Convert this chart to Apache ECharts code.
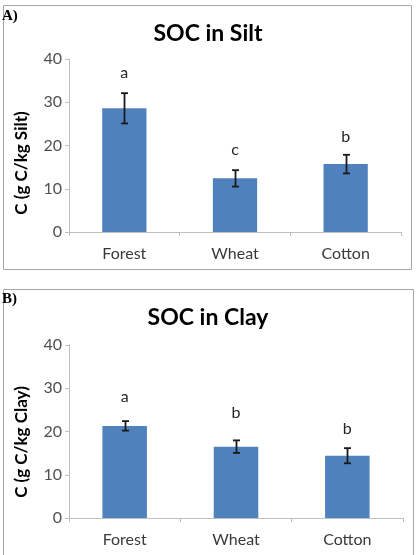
<!DOCTYPE html>
<html><head><meta charset="utf-8">
<script src="https://cdn.jsdelivr.net/npm/echarts@6/dist/echarts.min.js"></script>
<style>html,body{margin:0;padding:0;background:#fff}#c{width:417px;height:555px}</style>
</head><body><div id="c"></div>
<script>
var categories = ['Forest', 'Wheat', 'Cotton'];
var yTicks = [0, 10, 20, 30, 40];
var siltMean = [28.6, 12.4, 15.7];
var siltErr = [3.5, 1.9, 2.15];
var siltLetters = ['a', 'c', 'b'];
var siltLetterAt = [36.9, 19.1, 21.9];
var clayMean = [21.3, 16.5, 14.4];
var clayErr = [1.1, 1.45, 1.75];
var clayLetters = ['a', 'b', 'b'];
var clayLetterAt = [27.9, 24.2, 20.6];

var chart = echarts.init(document.getElementById('c'), null, {renderer: 'canvas'});
var FONT = 'Lato, "Open Sans", sans-serif';
var BAR = '#4F81BD';
var AX = '#bfbfbf';
var TXT = '#505050';

function xAxis(gi) {
  return {
    type: 'category', gridIndex: gi, data: categories,
    axisLine: {lineStyle: {color: AX, width: 1}},
    axisTick: {show: true, alignWithLabel: false, length: 4, lineStyle: {color: AX}},
    axisLabel: {fontFamily: FONT, fontSize: 16, color: '#3a3a3a', margin: 14}
  };
}
function yAxis(gi) {
  return {
    type: 'value', gridIndex: gi, min: yTicks[0], max: yTicks[yTicks.length - 1], interval: 10,
    splitLine: {show: false},
    axisLine: {show: true, lineStyle: {color: AX, width: 1}},
    axisTick: {show: true, length: 4, lineStyle: {color: AX}},
    axisLabel: {fontFamily: FONT, fontSize: 16, color: TXT, margin: 7}
  };
}
function errSeries(gi, mean, err) {
  return {
    type: 'custom', xAxisIndex: gi, yAxisIndex: gi, z: 5,
    data: mean.map(function (m, i) { return [i, m - err[i], m + err[i]]; }),
    renderItem: function (params, api) {
      var lo = api.coord([api.value(0), api.value(1)]);
      var hi = api.coord([api.value(0), api.value(2)]);
      var x = Math.round(lo[0]) + 0.5;
      var w = 3.5;
      var st = {stroke: '#1a1a1a', lineWidth: 1.8};
      return {type: 'group', children: [
        {type: 'line', shape: {x1: x, y1: hi[1], x2: x, y2: lo[1]}, style: st},
        {type: 'line', shape: {x1: x - w, y1: hi[1], x2: x + w, y2: hi[1]}, style: st},
        {type: 'line', shape: {x1: x - w, y1: lo[1], x2: x + w, y2: lo[1]}, style: st}
      ]};
    }
  };
}
function letterSeries(gi, letters, at) {
  return {
    type: 'custom', xAxisIndex: gi, yAxisIndex: gi, z: 6,
    data: at.map(function (v, i) { return [i, v]; }),
    renderItem: function (params, api) {
      var p = api.coord([api.value(0), api.value(1)]);
      return {type: 'text', x: p[0], y: p[1], style: {
        text: letters[params.dataIndex], fontFamily: FONT, fontSize: 16,
        fill: '#262626', align: 'center', verticalAlign: 'middle'}};
    }
  };
}

var option = {
  animation: false,
  backgroundColor: '#fff',
  grid: [
    {left: 69, right: 16, top: 59, height: 173},
    {left: 69, right: 14, top: 345, height: 173}
  ],
  xAxis: [xAxis(0), xAxis(1)],
  yAxis: [yAxis(0), yAxis(1)],
  series: [
    {type: 'bar', xAxisIndex: 0, yAxisIndex: 0, data: siltMean, barWidth: '40%', itemStyle: {color: BAR}},
    errSeries(0, siltMean, siltErr),
    letterSeries(0, siltLetters, siltLetterAt),
    {type: 'bar', xAxisIndex: 1, yAxisIndex: 1, data: clayMean, barWidth: '40%', itemStyle: {color: BAR}},
    errSeries(1, clayMean, clayErr),
    letterSeries(1, clayLetters, clayLetterAt)
  ],
  graphic: [
    {type: 'rect', shape: {x: 3.5, y: 5.5, width: 408, height: 264}, style: {fill: 'none', stroke: '#a6a6a6', lineWidth: 1}, z: -1},
    {type: 'rect', shape: {x: 3.5, y: 289.5, width: 410, height: 270}, style: {fill: 'none', stroke: '#a6a6a6', lineWidth: 1}, z: -1},
    {type: 'text', x: 2, y: 16, style: {text: 'A)', font: 'bold 15px "Liberation Serif", serif', fill: '#000', verticalAlign: 'middle'}},
    {type: 'text', x: 2, y: 299, style: {text: 'B)', font: 'bold 15px "Liberation Serif", serif', fill: '#000', verticalAlign: 'middle'}},
    {type: 'text', x: 208, y: 34, style: {text: 'SOC in Silt', font: 'bold 23px ' + FONT, fill: '#000', align: 'center', verticalAlign: 'middle'}},
    {type: 'text', x: 208, y: 318, style: {text: 'SOC in Clay', font: 'bold 23px ' + FONT, fill: '#000', align: 'center', verticalAlign: 'middle'}},
    {type: 'text', x: 22, y: 163, rotation: Math.PI / 2, style: {text: 'C (g C/kg Silt)', font: 'bold 17px ' + FONT, fill: '#000', align: 'center', verticalAlign: 'middle'}},
    {type: 'text', x: 22, y: 442, rotation: Math.PI / 2, style: {text: 'C (g C/kg Clay)', font: 'bold 17px ' + FONT, fill: '#000', align: 'center', verticalAlign: 'middle'}}
  ]
};
chart.setOption(option);
</script>
</body></html>
